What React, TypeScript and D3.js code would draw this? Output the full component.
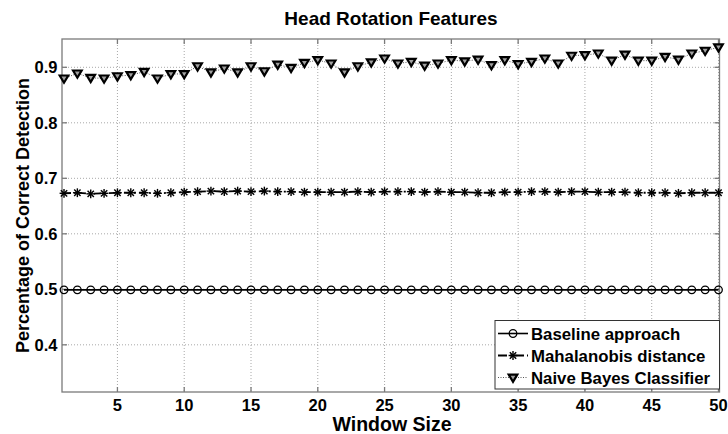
import React from "react";
import * as d3 from "d3";

// Window sizes evaluated
const windowSizes: number[] = d3.range(1, 51);

// Detection rates per window size
const baselineRates: number[] = Array(50).fill(0.499);

const mahalanobisRates: number[] = [
  0.673, 0.674, 0.672, 0.673, 0.674, 0.674, 0.674, 0.673, 0.674, 0.675,
  0.676, 0.677, 0.676, 0.677, 0.676, 0.677, 0.676, 0.676, 0.675, 0.675,
  0.675, 0.675, 0.676, 0.675, 0.676, 0.676, 0.676, 0.675, 0.676, 0.675,
  0.675, 0.674, 0.674, 0.675, 0.675, 0.676, 0.676, 0.675, 0.676, 0.676,
  0.675, 0.675, 0.675, 0.674, 0.674, 0.674, 0.673, 0.674, 0.674, 0.674,
];

const naiveBayesRates: number[] = [
  0.880, 0.889, 0.881, 0.880, 0.884, 0.886, 0.892, 0.880, 0.888, 0.888,
  0.902, 0.891, 0.898, 0.891, 0.902, 0.893, 0.905, 0.899, 0.908, 0.913,
  0.907, 0.891, 0.902, 0.909, 0.916, 0.907, 0.910, 0.903, 0.907, 0.913,
  0.911, 0.914, 0.904, 0.913, 0.906, 0.910, 0.916, 0.907, 0.921, 0.922,
  0.925, 0.912, 0.923, 0.912, 0.912, 0.919, 0.914, 0.925, 0.930, 0.936,
];

const xTicks: number[] = [5, 10, 15, 20, 25, 30, 35, 40, 45, 50];
const yTicks: number[] = [0.4, 0.5, 0.6, 0.7, 0.8, 0.9];

const seriesNames: string[] = [
  "Baseline approach",
  "Mahalanobis distance",
  "Naive Bayes Classifier",
];

const W = 728;
const H = 434;
const plot = { left: 62, right: 719.5, top: 39, bottom: 392 };
const FONT = "'Liberation Sans', Arial, Helvetica, sans-serif";
const AXIS = "#7a7a7a";
const GRID = "#a8a8a8";

const x = d3.scaleLinear().domain([0.85, 50.075]).range([plot.left, plot.right]);
const y = d3.scaleLinear().domain([0.315, 0.951]).range([plot.bottom, plot.top]);

const lineGen = d3
  .line<[number, number]>()
  .x((d) => x(d[0]))
  .y((d) => y(d[1]));

const pts = (vals: number[]): [number, number][] =>
  windowSizes.map((w, i) => [w, vals[i]]);

function Circle({ cx, cy }: { cx: number; cy: number }) {
  return <circle cx={cx} cy={cy} r={3.8} fill="none" stroke="#000" strokeWidth={1.3} />;
}

function Star({ cx, cy }: { cx: number; cy: number }) {
  const r = 4.4;
  const d = r * 0.72;
  return (
    <g stroke="#000" strokeWidth={1.4}>
      <line x1={cx - r} y1={cy} x2={cx + r} y2={cy} />
      <line x1={cx} y1={cy - r} x2={cx} y2={cy + r} />
      <line x1={cx - d} y1={cy - d} x2={cx + d} y2={cy + d} />
      <line x1={cx - d} y1={cy + d} x2={cx + d} y2={cy - d} />
    </g>
  );
}

function Tri({ cx, cy }: { cx: number; cy: number }) {
  const w = 4.3;
  const h = 3.9;
  const p = `M${cx - w},${cy - h * 0.75}L${cx + w},${cy - h * 0.75}L${cx},${cy + h * 1.1}Z`;
  return <path d={p} fill="#a0a0a0" stroke="#000" strokeWidth={2.2} strokeLinejoin="miter" />;
}

export default function App() {
  const basePts = pts(baselineRates);
  const mahaPts = pts(mahalanobisRates);
  const nbPts = pts(naiveBayesRates);

  const legendX = 495;
  const legendRows = [333.5, 355.5, 377.5];

  return (
    <svg
      width={W}
      height={H}
      style={{ position: "absolute", left: 0, top: 0, background: "#fff" }}
      fontFamily={FONT}
    >
      <rect x={0} y={0} width={W} height={H} fill="#fff" />

      {/* grid */}
      <g stroke={GRID} strokeWidth={1} strokeDasharray="1,2">
        {xTicks.map((t) => (
          <line key={"gx" + t} x1={x(t)} x2={x(t)} y1={plot.top} y2={plot.bottom} />
        ))}
        {yTicks.map((t) => (
          <line key={"gy" + t} x1={plot.left} x2={plot.right} y1={y(t)} y2={y(t)} />
        ))}
      </g>

      {/* axes box */}
      <rect
        x={plot.left}
        y={plot.top}
        width={plot.right - plot.left}
        height={plot.bottom - plot.top}
        fill="none"
        stroke={AXIS}
        strokeWidth={1.3}
      />
      <g stroke={AXIS} strokeWidth={1.3}>
        {xTicks.map((t) => (
          <g key={"tx" + t}>
            <line x1={x(t)} x2={x(t)} y1={plot.bottom} y2={plot.bottom - 5} />
            <line x1={x(t)} x2={x(t)} y1={plot.top} y2={plot.top + 5} />
          </g>
        ))}
        {yTicks.map((t) => (
          <g key={"ty" + t}>
            <line x1={plot.left} x2={plot.left + 5} y1={y(t)} y2={y(t)} />
            <line x1={plot.right} x2={plot.right - 5} y1={y(t)} y2={y(t)} />
          </g>
        ))}
      </g>

      {/* tick labels */}
      <g fontSize={16.5} fontWeight="bold" fill="#000">
        {xTicks.map((t) => (
          <text key={"lx" + t} x={x(t)} y={411} textAnchor="middle">
            {t}
          </text>
        ))}
        {yTicks.map((t) => (
          <text key={"ly" + t} x={57.5} y={y(t) + 6} textAnchor="end">
            {t.toFixed(1)}
          </text>
        ))}
      </g>

      {/* series lines */}
      <path d={lineGen(basePts) ?? ""} fill="none" stroke="#000" strokeWidth={1.6} />
      <path
        d={lineGen(mahaPts) ?? ""}
        fill="none"
        stroke="#000"
        strokeWidth={1.8}
        strokeDasharray="7,3,2,3"
      />
      <path
        d={lineGen(nbPts) ?? ""}
        fill="none"
        stroke="#555"
        strokeWidth={1}
        strokeDasharray="1,1.5"
      />

      {/* markers */}
      {basePts.map((d, i) => (
        <Circle key={"c" + i} cx={x(d[0])} cy={y(d[1])} />
      ))}
      {mahaPts.map((d, i) => (
        <Star key={"s" + i} cx={x(d[0])} cy={y(d[1])} />
      ))}
      {nbPts.map((d, i) => (
        <Tri key={"t" + i} cx={x(d[0])} cy={y(d[1])} />
      ))}

      {/* legend */}
      <rect
        x={legendX}
        y={320.5}
        width={plot.right - legendX}
        height={68.5}
        fill="#fff"
        stroke="#333"
        strokeWidth={1}
      />
      <line x1={498} x2={528} y1={legendRows[0]} y2={legendRows[0]} stroke="#000" strokeWidth={1.6} />
      <Circle cx={513} cy={legendRows[0]} />
      <line
        x1={498}
        x2={528}
        y1={legendRows[1]}
        y2={legendRows[1]}
        stroke="#000"
        strokeWidth={1.8}
        strokeDasharray="9,3,2,3"
      />
      <Star cx={513} cy={legendRows[1]} />
      <line
        x1={498}
        x2={528}
        y1={legendRows[2]}
        y2={legendRows[2]}
        stroke="#555"
        strokeWidth={1}
        strokeDasharray="1,1.5"
      />
      <Tri cx={513} cy={legendRows[2]} />
      <g fontSize={16.8} fontWeight="bold" fill="#000">
        {seriesNames.map((n, i) => (
          <text key={n} x={531} y={legendRows[i] + 6}>
            {n}
          </text>
        ))}
      </g>

      {/* titles */}
      <text x={391} y={25} textAnchor="middle" fontSize={19} fontWeight="bold">
        Head Rotation Features
      </text>
      <text x={392} y={431} textAnchor="middle" fontSize={19.5} fontWeight="bold">
        Window Size
      </text>
      <text
        transform={`translate(29, ${(plot.top + plot.bottom) / 2}) rotate(-90)`}
        textAnchor="middle"
        fontSize={18}
        fontWeight="bold"
      >
        Percentage of Correct Detection
      </text>
    </svg>
  );
}
